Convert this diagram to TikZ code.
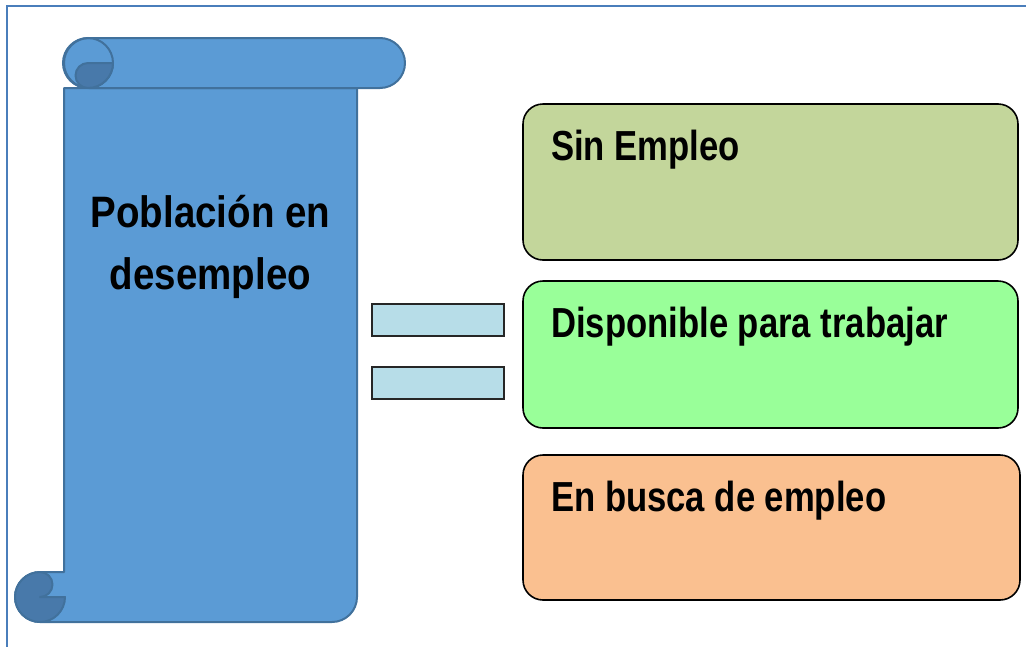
\documentclass[tikz,border=0pt]{standalone}
\usepackage{fontspec}
\setmainfont[FakeStretch=0.825]{Liberation Sans}
\newfontfamily\leftfont[FakeStretch=0.875]{Liberation Sans}
\definecolor{framec}{RGB}{74,126,187}
\definecolor{scrollfill}{RGB}{91,155,213}
\definecolor{scrollline}{RGB}{65,113,156}
\definecolor{scrolldark}{RGB}{72,121,170}
\definecolor{boxA}{RGB}{195,214,155}
\definecolor{boxB}{RGB}{153,255,153}
\definecolor{boxC}{RGB}{250,192,144}
\definecolor{barc}{RGB}{183,221,232}
\tikzset{
  scrollpart/.style={fill=scrollfill, draw=scrollline, line width=2pt, line join=round},
  scrolldarkpart/.style={fill=scrolldark, draw=scrollline, line width=2pt, line join=round},
  infobox/.style={draw=black, line width=1.6pt, rounded corners=20pt},
  barbox/.style={draw=black!85, fill=barc, line width=1.4pt},
  boxlabel/.style={anchor=base west, inner sep=0pt, font=\bfseries\fontsize{42}{50}\selectfont},
  scrolllabel/.style={anchor=base, inner sep=0pt, font=\leftfont\bfseries\fontsize{44}{52}\selectfont}
}
\begin{document}
\begin{tikzpicture}[x=1pt,y=-1pt]
\useasboundingbox (0,0) rectangle (1026,646);
% frame
\draw[framec, line width=2.2pt] (7,647) -- (7,6) -- (1027,6);
% scroll body
\path[scrollpart] (64,88) -- (64,572) -- (40,572)
  arc[start angle=270, end angle=90, radius=25] -- (332,622)
  arc[start angle=90, end angle=0, radius=25] -- (357,88) -- cycle;
% bottom roll dark part
\path[scrolldarkpart] (40,572) arc[start angle=270, end angle=90, radius=25]
  arc[start angle=90, end angle=0, radius=25] -- (40,597)
  arc[start angle=90, end angle=-90, radius=12.5] -- cycle;
% top roll
\path[scrollpart, rounded corners=25pt] (64,38) rectangle (405,88);
\draw[scrollline, line width=2pt] (88,63) circle[radius=25];
\path[scrolldarkpart] (113,63) arc[start angle=0, end angle=90, radius=25]
  arc[start angle=90, end angle=270, radius=12.5] -- cycle;
% scroll text
\node[scrolllabel] (pob1) at (210.5,227) {Población en};
\node[scrolllabel] (pob2) at (210.5,289) {desempleo};
% bars
\draw[barbox] (372,304) rectangle (504,336);
\draw[barbox] (372,367) rectangle (504,399);
% boxes
\draw[infobox, fill=boxA] (523,104) rectangle (1018,260);
\draw[infobox, fill=boxB] (523,281) rectangle (1018,428);
\draw[infobox, fill=boxC] (523,455) rectangle (1020,600);
\node[boxlabel] (sin) at (551,160) {Sin Empleo};
\node[boxlabel] (disp) at (551,337) {Disponible para trabajar};
\node[boxlabel] (busca) at (551,511) {En busca de empleo};
\end{tikzpicture}
\end{document}
